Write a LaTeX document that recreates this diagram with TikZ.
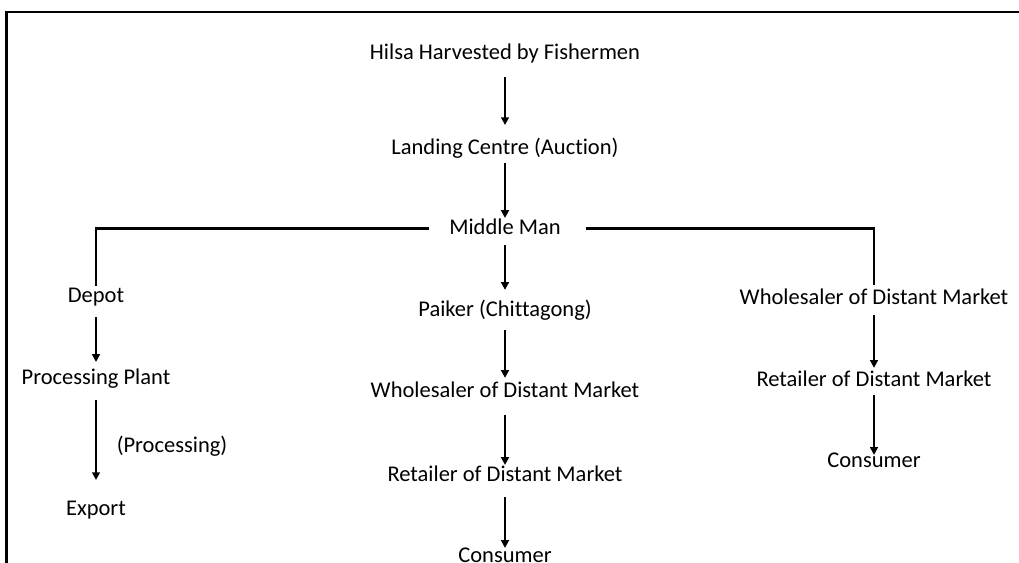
\documentclass[tikz,border=0pt]{standalone}
\usepackage{fontspec}
\setmainfont{Carlito}[Ligatures=NoCommon]
\usepackage{tikz}
\usetikzlibrary{calc, arrows.meta}

\begin{document}
\begin{tikzpicture}[x=0.025cm,y=-0.025cm]
\tikzstyle{stage}=[anchor=base,inner sep=0pt,outer sep=0pt,text height=9.3pt,text depth=0pt,font=\fontsize{16}{19}\selectfont]
\tikzstyle{link}=[line width=1.5pt]
\tikzstyle{flow}=[link,-{Triangle[length=5.5pt,width=5.5pt]}]
\clip (0,0) rectangle (1019,563);
\draw[line width=1.6pt] (1030,12) -| (6.5,580);
% centre column
\node[stage] (M_0) at (505,60) {Hilsa Harvested by Fishermen};
\node[stage] (M_1) at (505,155) {Landing Centre (Auction)};
\node[stage] (M_2) at (505,235) {Middle Man};
\node[stage] (M_3) at (505,317) {Paiker (Chittagong)};
\node[stage] (M_4) at (505,398) {Wholesaler of Distant Market};
\node[stage] (M_5) at (505,481) {Retailer of Distant Market};
\node[stage] (M_6) at (505,562) {Consumer};
% left column
\node[stage] (L_0) at (96,303) {Depot};
\node[stage] (L_1) at (96,385) {Processing Plant};
\node[stage] (L_2) at (96,515) {Export};
\node[stage] (L_n) at (172,452) {(Processing)};
% right column
\node[stage] (R_0) at (874,305) {Wholesaler of Distant Market};
\node[stage] (R_1) at (874,387) {Retailer of Distant Market};
\node[stage] (R_2) at (874,468) {Consumer};
\draw[flow,shorten <=12pt,shorten >=12pt] (M_0) -- (M_1);
\draw[flow,shorten <=5.7pt,shorten >=2.8pt] (M_1) -- (M_2);
\draw[flow,shorten <=7.1pt,shorten >=10pt] (M_2) -- (M_3);
\draw[flow,shorten <=9.2pt,shorten >=5pt] (M_3) -- (M_4);
\draw[flow,shorten <=12pt,shorten >=2.1pt] (M_4) -- (M_5);
\draw[flow,shorten <=11.4pt,shorten >=0.7pt] (M_5) -- (M_6);
\draw[link,shorten <=14.2pt,shorten >=2.8pt] (M_2) -| (L_0);
\draw[link,shorten <=17.8pt,shorten >=5pt] (M_2) -| (R_0);
\draw[flow,shorten <=10pt,shorten >=7.1pt] (L_0) -- (L_1);
\draw[flow,shorten <=10.7pt,shorten >=15.6pt] (L_1) -- (L_2);
\draw[flow,shorten <=7.1pt,shorten >=4.3pt] (R_0) -- (R_1);
\draw[flow,shorten <=5.7pt,shorten >=0pt] (R_1) -- (R_2);
\end{tikzpicture}
\end{document}
